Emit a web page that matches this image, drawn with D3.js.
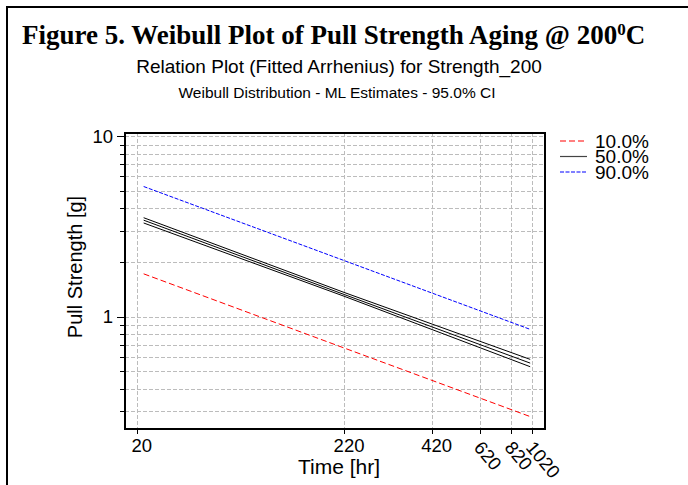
<!DOCTYPE html>
<html>
<head>
<meta charset="utf-8">
<script src="https://cdnjs.cloudflare.com/ajax/libs/d3/7.8.5/d3.min.js"></script>
<style>
  body { margin: 0; background: #fff; }
  text { font-family: "Liberation Sans", Arial, sans-serif; fill: #000; }
</style>
</head>
<body>
<div id="chart"></div>
<script>
var times = [24, 220, 1000];

// pull strength [g] at those times
var p10 = [1.73, 0.672, 0.28];
var p50 = [3.43, 1.33, 0.554];
var p50Lower = [3.31, 1.30, 0.529];
var p50Upper = [3.54, 1.365, 0.581];
var p90 = [5.27, 2.05, 0.852];

var xTicks = [20, 220, 420, 620, 820, 1020];
var xTicksRotated = [620, 820, 1020];
var yGrid = [0.3, 0.4, 0.5, 0.6, 0.7, 0.8, 0.9, 1, 2, 3, 4, 5, 6, 7, 8, 9, 10];
var yLabels = [1, 10];
var legendNames = ["10.0%", "50.0%", "90.0%"];

var W = 688, H = 485;
var plot = { left: 125, right: 545, top: 133, bottom: 429 };

var svg = d3.select("#chart")
  .append("svg")
  .attr("width", W)
  .attr("height", H);

// outer frame (only left and top edges are inside the picture)
svg.append("path")
  .attr("d", "M7,485 L7,7 L690,7")
  .attr("fill", "none")
  .attr("stroke", "#000")
  .attr("stroke-width", 2);

// titles
var title = svg.append("text")
  .attr("x", 22)
  .attr("y", 44)
  .style("font-family", "'Liberation Serif', 'Times New Roman', serif")
  .style("font-weight", "bold")
  .style("font-size", "27px")
  .text("Figure 5. Weibull Plot of Pull Strength Aging @ 200");
title.append("tspan")
  .attr("dy", -9)
  .style("font-size", "17px")
  .text("0");
title.append("tspan")
  .attr("dy", 9)
  .text("C");

svg.append("text")
  .attr("x", 339)
  .attr("y", 73)
  .attr("text-anchor", "middle")
  .style("font-size", "19px")
  .text("Relation Plot (Fitted Arrhenius) for Strength_200");

svg.append("text")
  .attr("x", 337)
  .attr("y", 98)
  .attr("text-anchor", "middle")
  .style("font-size", "15.5px")
  .text("Weibull Distribution - ML Estimates - 95.0% CI");

// Arrhenius time axis: linear in -1/(t + 273.15)
var arr = function(t) { return -1 / (t + 273.15); };
var xs = d3.scaleLinear()
  .domain([arr(13.4), arr(1183.4)])
  .range([plot.left, plot.right]);
var x = function(t) { return xs(arr(t)); };

var y = d3.scaleLog()
  .domain([0.239, 10.43])
  .range([plot.bottom, plot.top]);

// grid
svg.append("g").selectAll("line")
  .data(yGrid)
  .enter()
  .append("line")
  .attr("x1", plot.left)
  .attr("x2", plot.right)
  .attr("y1", d => Math.round(y(d)) + 0.5)
  .attr("y2", d => Math.round(y(d)) + 0.5)
  .attr("stroke", "#bcbcbc")
  .attr("stroke-dasharray", "4,2");

svg.append("g").selectAll("line")
  .data(xTicks)
  .enter()
  .append("line")
  .attr("x1", d => Math.round(x(d)) + 0.5)
  .attr("x2", d => Math.round(x(d)) + 0.5)
  .attr("y1", plot.top)
  .attr("y2", plot.bottom)
  .attr("stroke", "#bcbcbc")
  .attr("stroke-dasharray", "4,2");

// y ticks
svg.append("g").selectAll("line")
  .data(yGrid)
  .enter()
  .append("line")
  .attr("x1", d => yLabels.indexOf(d) >= 0 ? plot.left - 8 : plot.left - 5)
  .attr("x2", plot.left)
  .attr("y1", d => Math.round(y(d)) + 0.5)
  .attr("y2", d => Math.round(y(d)) + 0.5)
  .attr("stroke", "#000");

svg.append("g").selectAll("text")
  .data(yLabels)
  .enter()
  .append("text")
  .attr("x", 113)
  .attr("y", d => y(d))
  .attr("dy", "0.36em")
  .attr("text-anchor", "end")
  .style("font-size", "18.5px")
  .text(d => d);

// x ticks
svg.append("g").selectAll("line")
  .data(xTicks)
  .enter()
  .append("line")
  .attr("x1", d => Math.round(x(d)) + 0.5)
  .attr("x2", d => Math.round(x(d)) + 0.5)
  .attr("y1", plot.bottom)
  .attr("y2", plot.bottom + 5)
  .attr("stroke", "#000");

svg.append("g").selectAll("text")
  .data(xTicks.filter(d => xTicksRotated.indexOf(d) < 0))
  .enter()
  .append("text")
  .attr("x", d => x(d) + 5)
  .attr("y", 452)
  .attr("text-anchor", "middle")
  .style("font-size", "18.5px")
  .text(d => d);

svg.append("g").selectAll("text")
  .data(xTicksRotated)
  .enter()
  .append("text")
  .attr("transform", d => "translate(" + (x(d) - 7) + ",448) rotate(50)")
  .style("font-size", "18.5px")
  .text(d => d);

// axis titles
svg.append("text")
  .attr("x", 339)
  .attr("y", 474)
  .attr("text-anchor", "middle")
  .style("font-size", "21px")
  .text("Time [hr]");

svg.append("text")
  .attr("transform", "translate(82,267) rotate(-90)")
  .attr("text-anchor", "middle")
  .style("font-size", "20px")
  .text("Pull Strength [g]");

// fitted lines
var line = d3.line()
  .x((d, i) => x(times[i]))
  .y(d => y(d));

var series = [
  { values: p10, color: "#ff0000", dash: "6,3" },
  { values: p50Lower, color: "#000", dash: null },
  { values: p50, color: "#000", dash: null },
  { values: p50Upper, color: "#000", dash: null },
  { values: p90, color: "#0000ff", dash: "4,1.5" }
];

svg.append("g").selectAll("path")
  .data(series)
  .enter()
  .append("path")
  .attr("d", d => line(d.values))
  .attr("fill", "none")
  .attr("stroke", d => d.color)
  .attr("stroke-width", 1)
  .attr("stroke-dasharray", d => d.dash);

// plot frame
svg.append("rect")
  .attr("x", plot.left)
  .attr("y", plot.top)
  .attr("width", plot.right - plot.left)
  .attr("height", plot.bottom - plot.top)
  .attr("fill", "none")
  .attr("stroke", "#000")
  .attr("stroke-width", 2);

// legend
var legendColors = ["#ff0000", "#444", "#0000ff"];
var legendDash = ["6,3", null, "4,1.5"];
var legend = svg.append("g").selectAll("g")
  .data(legendNames)
  .enter()
  .append("g")
  .attr("transform", (d, i) => "translate(0," + (141 + i * 15.5) + ")");

legend.append("line")
  .attr("x1", 560)
  .attr("x2", 587)
  .attr("stroke", (d, i) => legendColors[i])
  .attr("stroke-width", 1.2)
  .attr("stroke-dasharray", (d, i) => legendDash[i]);

legend.append("text")
  .attr("x", 595)
  .attr("dy", "0.36em")
  .style("font-size", "19px")
  .text(d => d);
</script>
</body>
</html>
